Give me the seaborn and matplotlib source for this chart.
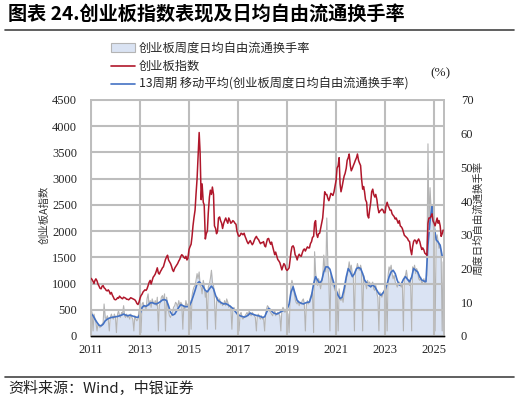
import numpy as np
import pandas as pd
import matplotlib
matplotlib.use("Agg")
import matplotlib.pyplot as plt
import matplotlib.dates as mdates
import seaborn as sns
from matplotlib.patches import Patch
from matplotlib.lines import Line2D

# ---------------- data ----------------
# ChiNext index, semi-monthly samples (1st and 15th of each month)
red_2011 = [1100,1080,1040,1000,1060,1090,1050,990,950,910,900,950,960,920,900,870,860,880,850,800,830,780,740,700]
red_2012 = [690,700,730,720,760,740,720,710,740,730,720,700,700,690,710,730,720,710,700,690,660,620,600,640]
red_2013 = [720,770,800,840,860,880,870,900,960,1020,1060,990,1060,1120,1150,1180,1240,1300,1200,1180,1230,1260,1300,1320]
red_2014 = [1400,1460,1510,1540,1450,1420,1380,1330,1260,1230,1290,1320,1350,1380,1430,1460,1520,1550,1530,1500,1480,1520,1450,1480]
red_2015 = [1650,1700,1750,1900,2100,2250,2400,2700,3000,3400,3880,3500,2600,2900,2550,2500,1850,1950,2000,2350,2650,2780,2700,2840]
red_2016 = [2700,2100,2050,1950,2000,2250,2270,2200,2150,2050,2150,2200,2250,2200,2150,2250,2200,2150,2170,2200,2180,2150,2130,2000]
red_2017 = [1930,1900,1920,1960,1950,1930,1960,1900,1850,1800,1760,1790,1820,1780,1740,1770,1830,1870,1900,1860,1840,1800,1760,1780]
red_2018 = [1780,1800,1720,1700,1780,1850,1860,1800,1750,1790,1700,1620,1550,1600,1520,1460,1430,1400,1330,1260,1330,1380,1350,1280]
red_2019 = [1250,1270,1300,1450,1600,1700,1720,1680,1550,1520,1450,1520,1560,1530,1520,1580,1640,1660,1620,1660,1700,1680,1680,1760]
red_2020 = [1800,1880,1900,2150,2200,1950,1880,1950,1960,2050,2150,2250,2500,2750,2700,2700,2620,2580,2650,2720,2700,2680,2750,2850]
red_2021 = [2970,3200,3250,3400,2900,2750,2850,2950,3050,3100,3200,3350,3400,3470,3250,3150,3200,3250,3300,3350,3400,3470,3350,3300]
red_2022 = [3250,3000,2800,2850,2750,2600,2550,2300,2250,2400,2550,2750,2800,2700,2650,2700,2600,2450,2350,2380,2400,2420,2400,2350]
red_2023 = [2350,2480,2550,2480,2450,2400,2400,2330,2300,2280,2230,2250,2200,2150,2200,2100,2080,2050,1980,1920,1900,1880,1860,1820]
red_2024 = [1800,1650,1550,1700,1800,1830,1820,1760,1820,1850,1800,1720,1650,1680,1640,1580,1560,1540,2150,2250,2250,2280,2330,2200]
red_2025 = [2150,2100,2180,2250,2150,2200,2100,1900,1950,2020]

# weekly average free-float turnover (%), semi-monthly samples
g_2011 = [8.0,7.0,1.5,6.5,5.0,4.0,1.5,3.5,3.0,2.5,3.0,3.5,4.0,9.5,5.5,5.0,6.0,5.0,1.5,5.5,6.5,5.5,5.0,6.5]
g_2012 = [5.5,1.0,6.5,7.5,6.0,5.5,7.0,6.5,9.0,6.0,5.5,6.5,5.5,6.0,5.0,6.5,5.5,5.0,1.5,6.0,5.0,4.5,5.0,7.5]
g_2013 = [8.0,1.0,9.5,10.0,8.5,9.0,8.0,11.0,12.5,9.0,10.5,8.5,11.0,10.0,9.5,10.5,9.0,11.5,1.5,9.0,10.0,11.5,12.0,10.5]
g_2014 = [12.5,1.5,11.5,9.0,7.5,6.0,5.5,6.5,7.0,8.5,9.0,10.0,9.5,8.5,10.5,9.0,10.0,9.5,2.0,9.0,8.0,10.5,9.0,9.5]
g_2015 = [9.0,10.5,2.0,12.0,13.5,14.5,15.0,16.5,18.5,17.0,19.0,15.0,14.5,12.5,16.5,15.0,11.5,13.0,2.0,14.5,15.5,17.0,19.5,16.0]
g_2016 = [15.0,11.0,2.0,10.0,11.5,10.0,11.0,9.5,10.0,9.0,9.5,10.5,9.0,11.0,10.0,8.5,9.0,8.5,2.0,8.0,8.5,7.5,7.0,6.5]
g_2017 = [6.0,1.5,6.5,7.0,5.5,5.0,5.5,6.0,6.5,7.0,6.0,7.5,6.5,6.0,7.0,6.5,6.0,5.5,1.5,6.0,6.5,5.5,5.0,6.0]
g_2018 = [5.0,5.5,1.5,6.5,8.0,9.0,8.5,7.5,7.0,6.5,6.0,7.0,7.5,6.0,6.5,7.0,6.5,6.0,1.5,7.5,8.5,8.0,7.0,7.5]
g_2019 = [7.0,6.5,1.0,11.0,15.0,16.5,15.0,13.0,11.0,10.0,9.5,10.5,9.0,10.0,9.5,10.5,11.0,9.5,1.5,9.0,10.5,9.5,10.0,11.5]
g_2020 = [12.5,13.0,1.0,25.0,19.0,16.0,15.0,17.0,15.5,14.0,16.0,17.5,24.0,20.0,19.0,35.0,20.0,17.0,1.5,18.5,16.5,15.0,14.5,13.5]
g_2021 = [13.0,12.5,1.5,14.0,11.0,10.5,11.5,10.0,12.5,14.0,16.5,18.0,20.0,22.0,19.5,21.0,18.0,17.5,1.5,18.5,20.0,21.5,20.0,19.5]
g_2022 = [21.0,19.5,1.5,18.0,16.5,15.5,14.0,16.5,15.0,16.0,14.5,15.5,16.0,14.0,13.5,15.0,12.5,11.5,1.5,13.0,12.0,11.5,12.5,13.5]
g_2023 = [14.0,15.0,1.5,18.0,20.5,19.5,21.0,18.5,17.0,18.0,16.0,15.5,14.5,15.5,16.0,15.0,14.5,16.0,1.5,17.5,18.0,19.5,17.0,16.5]
g_2024 = [15.0,17.0,1.5,20.5,19.5,21.0,18.5,20.0,19.0,17.0,16.5,17.5,15.5,16.0,17.0,15.5,16.5,18.0,57.0,33.0,44.0,38.0,36.0,34.0]
g_2025 = [30.0,1.5,29.0,30.0,28.0,26.0,27.0,24.0,1.5,22.0]

# 13-week moving average of turnover (%), monthly samples
ma_2011 = [6.7,6.0,5.0,4.0,3.2,3.0,3.5,4.5,5.0,5.3,5.5,5.6]
ma_2012 = [5.7,5.8,6.0,6.2,6.5,6.2,6.0,6.2,6.0,5.8,5.6,5.5]
ma_2013 = [6.5,8.5,9.0,8.8,9.2,9.8,9.9,9.6,9.5,9.8,10.2,10.7]
ma_2014 = [10.8,10.5,9.0,7.0,6.2,6.5,7.5,8.5,9.3,9.0,8.7,8.7]
ma_2015 = [8.8,10.0,11.6,13.5,15.5,16.1,15.5,14.6,13.5,13.1,14.0,14.8]
ma_2016 = [14.0,12.0,10.7,10.2,9.8,9.5,9.6,9.3,8.9,8.4,7.8,7.0]
ma_2017 = [6.3,6.0,5.8,5.6,5.8,6.2,6.8,6.5,6.3,6.1,6.0,5.8]
ma_2018 = [5.5,5.7,7.0,8.2,7.8,7.0,6.7,6.5,6.8,7.2,7.5,7.7]
ma_2019 = [7.9,9.5,13.0,14.6,12.5,10.5,10.0,9.7,9.5,9.8,10.0,10.1]
ma_2020 = [12.0,15.5,17.6,16.5,15.6,16.5,19.0,20.5,20.5,19.8,17.5,15.5]
ma_2021 = [13.6,12.0,11.1,11.5,14.0,17.5,20.0,19.0,17.6,18.5,20.0,20.3]
ma_2022 = [20.0,18.5,16.6,15.8,15.0,14.6,15.2,14.6,13.5,12.5,12.1,12.8]
ma_2023 = [13.6,15.5,17.5,19.0,19.5,18.5,16.5,15.1,15.5,16.8,17.6,16.8]
ma_2024 = [16.1,17.5,20.0,19.5,19.0,17.5,16.6,16.3,16.1,27.0,34.0,38.8]
ma_2025 = [32.5,28.5,27.9,26.9,23.7]

years = list(range(2011, 2026))
index_vals = sum([globals()[f"red_{y}"] for y in years], [])
turn_vals = sum([globals()[f"g_{y}"] for y in years], [])
ma_vals = sum([globals()[f"ma_{y}"] for y in years], [])

semi_dates = pd.date_range("2011-01-01", "2025-05-16", freq="SMS")
month_dates = pd.date_range("2011-01-01", "2025-05-01", freq="MS")

df = pd.DataFrame({"date": semi_dates, "index": index_vals, "turn": turn_vals})
dfm = pd.DataFrame({"date": month_dates, "ma": ma_vals})

left_ticks = [0, 500, 1000, 1500, 2000, 2500, 3000, 3500, 4000, 4500]
right_ticks = [0, 10, 20, 30, 40, 50, 60, 70]
year_ticks = ["2011", "2013", "2015", "2017", "2019", "2021", "2023", "2025"]

# ---------------- styling ----------------
sns.set_theme(style="white")
plt.rcParams["font.family"] = ["Noto Sans CJK SC", "DejaVu Sans"]
plt.rcParams["axes.unicode_minus"] = False

RED = "#b0172b"
BLUE = "#4472c4"
GRAY = "#b4b4b4"
FILL = "#dae3f3"
GRID = "#bdbdbd"
SERIF = ["Liberation Serif", "DejaVu Serif"]

W, H = 519, 404
fig = plt.figure(figsize=(W / 100, H / 100), dpi=100)
L, R, T, B = 91, 444, 100, 336
ax = fig.add_axes([L / W, 1 - B / H, (R - L) / W, (B - T) / H])
ax2 = ax.twinx()
ax.set_zorder(ax2.get_zorder() + 1)
ax.patch.set_visible(False)

# turnover area + line on right axis
ax2.fill_between(df["date"], df["turn"], 0, color=FILL, lw=0, zorder=1)
sns.lineplot(data=df, x="date", y="turn", ax=ax2, color=GRAY, lw=0.8, zorder=2)
sns.lineplot(data=dfm, x="date", y="ma", ax=ax2, color=BLUE, lw=1.2, zorder=3)
# index on left axis
sns.lineplot(data=df, x="date", y="index", ax=ax, color=RED, lw=1.1, zorder=4)

xmin, xmax = pd.Timestamp("2011-01-01"), pd.Timestamp("2025-05-28")
for a in (ax, ax2):
    a.set_xlim(xmin, xmax)
    a.set_xlabel("")
    a.set_ylabel("")

ax.set_ylim(0, 4500)
ax.set_yticks(left_ticks)
ax.set_yticklabels([str(v) for v in left_ticks], family=SERIF, fontsize=9)
ax2.set_ylim(0, 70)
ax2.set_yticks(right_ticks)
ax2.set_yticklabels([str(v) for v in right_ticks], family=SERIF, fontsize=9)

xt = [pd.Timestamp(f"{y}-01-01") for y in year_ticks]
ax.set_xticks(xt)
ax.set_xticklabels(year_ticks, family=SERIF, fontsize=9)

ax.grid(True, axis="both", color=GRID, lw=1.5)
ax2.grid(False)
ax.tick_params(axis="y", length=0, pad=10)
ax2.tick_params(axis="y", length=0, pad=12)
ax.tick_params(axis="x", direction="in", length=3, width=0.8, color="black", pad=6)

for a in (ax, ax2):
    for s in ("left", "right", "top"):
        a.spines[s].set_color(GRID)
        a.spines[s].set_linewidth(1.2)
    a.spines["bottom"].set_color("black")
    a.spines["bottom"].set_linewidth(1.0)

# axis titles
fig.text(45 / W, 1 - 215 / H, "创业板A指数", rotation=90, ha="center", va="center",
         fontsize=7.5, color="#333333")
fig.text(478 / W, 1 - 218 / H, "周度日均自由流通换手率", rotation=90, ha="center", va="center",
         fontsize=7.5, color="#333333")
fig.text(440 / W, 1 - 73 / H, "(%)", ha="center", va="center", family=SERIF, fontsize=9.5)

# legend
handles = [Patch(facecolor=FILL, edgecolor=GRAY, lw=0.8),
           Line2D([], [], color=RED, lw=1.2),
           Line2D([], [], color=BLUE, lw=1.2)]
labels = ["创业板周度日均自由流通换手率", "创业板指数", "13周期 移动平均(创业板周度日均自由流通换手率)"]
fig.legend(handles, labels, loc="upper left", bbox_to_anchor=(111 / W, 1 - 42 / H),
           frameon=False, fontsize=8.8, borderaxespad=0, borderpad=0,
           handlelength=2.0, handletextpad=0.3, labelspacing=0.4)

# title and rules
fig.text(8 / W, 1 - 15 / H, "图表 24.创业板指数表现及日均自由流通换手率", ha="left", va="center",
         fontsize=13.8, fontweight="bold", color="black")
fig.add_artist(Line2D([5 / W, 514 / W], [1 - 30 / H, 1 - 30 / H], color="#444444", lw=1.2))
fig.add_artist(Line2D([5 / W, 514 / W], [1 - 377 / H, 1 - 377 / H], color="#444444", lw=1.2))
fig.text(8 / W, 1 - 389 / H, "资料来源：Wind，中银证券", ha="left", va="center",
         fontsize=10.8, style="italic", color="#222222")

fig.savefig("out.png", dpi=100)
